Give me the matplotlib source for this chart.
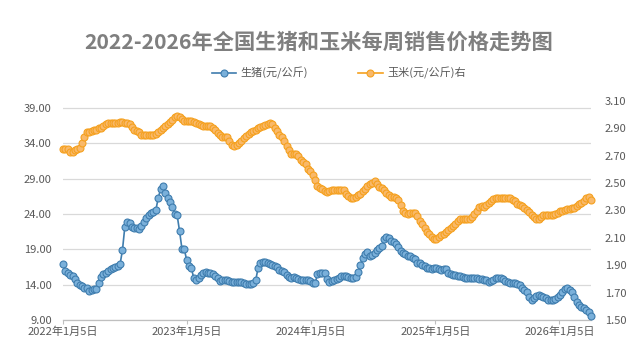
import matplotlib
matplotlib.use("Agg")
import matplotlib.pyplot as plt
import numpy as np

plt.rcParams['font.family'] = ['Noto Sans CJK SC', 'DejaVu Sans']

title = "2022-2026年全国生猪和玉米每周销售价格走势图"
pig_label = "生猪(元/公斤)"
corn_label = "玉米(元/公斤)右"
start_date = "2022-01-05"

pig = [
    16.9, 15.9, 15.6, 15.4, 15.2, 14.8, 14.2, 13.9, 13.8, 13.6, 13.5, 13.1, 13.2, 13.4, 13.4, 14.2,
    15.1, 15.5, 15.7, 15.9, 16.2, 16.4, 16.5, 16.7, 16.9, 18.9, 22.2, 22.9, 22.8, 22.1, 22.0, 22.0,
    21.9, 22.3, 22.9, 23.4, 23.8, 24.1, 24.3, 24.5, 26.2, 27.5, 27.9, 27.0, 26.3, 25.7, 25.0, 24.0,
    23.8, 21.6, 19.1, 19.0,
    17.5, 16.7, 16.3, 14.9, 14.6, 14.9, 15.3, 15.7, 15.8, 15.7, 15.6, 15.5, 15.2, 15.0, 14.5, 14.6,
    14.7, 14.6, 14.5, 14.4, 14.4, 14.4, 14.4, 14.4, 14.3, 14.1, 14.1, 14.1, 14.2, 14.6, 16.3, 17.1,
    17.2, 17.2, 17.1, 16.9, 16.8, 16.6, 16.5, 16.1, 15.9, 15.8, 15.4, 15.1, 15.0, 15.1, 15.0, 14.8,
    14.6, 14.6, 14.7, 14.6,
    14.5, 14.3, 14.2, 15.5, 15.6, 15.6, 15.6, 14.8, 14.4, 14.5, 14.6, 14.8, 15.0, 15.2, 15.2, 15.2,
    15.1, 15.0, 15.0, 15.1, 15.8, 16.8, 17.8, 18.4, 18.6, 18.1, 18.2, 18.5, 18.9, 19.2, 19.5, 20.4,
    20.8, 20.6, 20.2, 20.0, 19.7, 19.4, 18.7, 18.5, 18.3, 18.1, 18.0, 17.8, 17.6, 17.1, 17.0, 16.8,
    16.6, 16.4, 16.3, 16.2,
    16.4, 16.3, 16.2, 16.1, 16.2, 16.2, 15.6, 15.5, 15.4, 15.3, 15.2, 15.2, 15.1, 15.0, 15.0, 15.0,
    14.9, 14.9, 14.9, 14.8, 14.8, 14.7, 14.6, 14.4, 14.5, 14.7, 14.9, 15.0, 14.9, 14.8, 14.5, 14.4,
    14.3, 14.2, 14.2, 14.1, 14.0, 13.6, 13.2, 12.9, 12.3, 11.9, 12.1, 12.4, 12.5, 12.4, 12.3, 12.1,
    11.9, 11.8, 11.9, 12.0,
    12.3, 12.6, 13.0, 13.4, 13.5, 13.3, 12.9, 12.2, 11.6, 11.1, 10.9, 10.7, 10.4, 10.1, 9.5,
]

corn = [
    2.75, 2.75, 2.75, 2.73, 2.73, 2.745, 2.75, 2.76, 2.79, 2.84, 2.87, 2.875, 2.88, 2.89, 2.89, 2.90,
    2.90, 2.917, 2.93, 2.936, 2.936, 2.936, 2.936, 2.94, 2.95, 2.95, 2.936, 2.936, 2.93, 2.91, 2.89, 2.88,
    2.87, 2.855, 2.85, 2.85, 2.85, 2.85, 2.85, 2.86, 2.875, 2.89, 2.905, 2.915, 2.935, 2.945, 2.96, 2.985,
    2.99, 2.98, 2.97, 2.955,
    2.955, 2.955, 2.955, 2.95, 2.94, 2.935, 2.925, 2.92, 2.917, 2.917, 2.917, 2.905, 2.89, 2.865, 2.85, 2.84,
    2.838, 2.835, 2.81, 2.777, 2.77, 2.78, 2.795, 2.81, 2.83, 2.845, 2.86, 2.873, 2.88, 2.89, 2.90, 2.91,
    2.917, 2.925, 2.935, 2.936, 2.93, 2.90, 2.88, 2.85, 2.835, 2.805, 2.77, 2.745, 2.716, 2.716, 2.71, 2.70,
    2.67, 2.655, 2.64, 2.606,
    2.585, 2.56, 2.52, 2.48, 2.465, 2.455, 2.445, 2.435, 2.445, 2.45, 2.45, 2.45, 2.45, 2.45, 2.45, 2.42,
    2.405, 2.39, 2.39, 2.40, 2.41, 2.42, 2.44, 2.455, 2.48, 2.49, 2.50, 2.515, 2.49, 2.475, 2.465, 2.447,
    2.43, 2.41, 2.40, 2.40, 2.39, 2.375, 2.34, 2.30, 2.285, 2.275, 2.28, 2.285, 2.28, 2.26, 2.225, 2.20,
    2.175, 2.145, 2.125, 2.11,
    2.095, 2.095, 2.105, 2.12, 2.13, 2.14, 2.155, 2.17, 2.19, 2.205, 2.22, 2.235, 2.235, 2.235, 2.235, 2.24,
    2.255, 2.275, 2.30, 2.325, 2.335, 2.325, 2.34, 2.355, 2.37, 2.385, 2.39, 2.39, 2.39, 2.39, 2.39, 2.39,
    2.39, 2.38, 2.37, 2.35, 2.34, 2.33, 2.32, 2.305, 2.29, 2.27, 2.25, 2.24, 2.235, 2.25, 2.265, 2.27,
    2.27, 2.27, 2.27, 2.275,
    2.285, 2.295, 2.30, 2.305, 2.31, 2.31, 2.315, 2.32, 2.335, 2.345, 2.355, 2.37, 2.39, 2.395, 2.375,
]

x_tick_dates = ["2022-01-05", "2023-01-05", "2024-01-05", "2025-01-05", "2026-01-05"]
x_tick_labels = ["2022年1月5日", "2023年1月5日", "2024年1月5日", "2025年1月5日", "2026年1月5日"]
left_ticks = [9, 14, 19, 24, 29, 34, 39]
right_ticks = [1.5, 1.7, 1.9, 2.1, 2.3, 2.5, 2.7, 2.9, 3.1]

d0 = np.datetime64(start_date)
n = max(len(pig), len(corn))
dates = d0 + np.arange(n) * np.timedelta64(7, 'D')
pig_dates = dates[:len(pig)]
corn_dates = dates[:len(corn)]

W, H = 638, 354
fig = plt.figure(figsize=(W / 100, H / 100), dpi=100)
ax = fig.add_axes([63 / W, (H - 320) / H, (591 - 63) / W, (320 - 101) / H])
ax2 = ax.twinx()

text_color = "#595959"
grid_color = "#D9D9D9"

pig_line = "#3F7DAE"
pig_face = "#7AB0DA"
corn_line = "#F5A11F"
corn_face = "#F9B96A"

ax.plot(pig_dates, pig, color=pig_line, lw=1.2, marker='o', ms=5.0,
        mfc=pig_face, mec=pig_line, mew=0.8, clip_on=False, zorder=3, label=pig_label)
ax2.plot(corn_dates, corn, color=corn_line, lw=1.2, marker='o', ms=5.0,
         mfc=corn_face, mec=corn_line, mew=0.8, clip_on=False, zorder=3, label=corn_label)

ax.set_xlim(dates[0], dates[-1])
ax.set_ylim(9, 40)
ax2.set_ylim(1.5, 3.1)

ax.set_yticks(left_ticks)
ax.set_yticklabels([f"{v:.2f}" for v in left_ticks])
ax2.set_yticks(right_ticks)
ax2.set_yticklabels([f"{v:.2f}" for v in right_ticks])

ax.set_xticks([np.datetime64(d) for d in x_tick_dates])
ax.set_xticklabels(x_tick_labels)

ax.grid(axis='y', color=grid_color, lw=0.9)
ax.set_axisbelow(True)
for a in (ax, ax2):
    for s in ('top', 'left', 'right', 'bottom'):
        a.spines[s].set_visible(False)
ax.spines['bottom'].set_visible(True)
ax.spines['bottom'].set_color("#BFBFBF")
ax.spines['bottom'].set_linewidth(0.9)

ax.tick_params(axis='y', length=0, labelsize=8, labelcolor=text_color, pad=8)
ax2.tick_params(axis='y', length=0, labelsize=8, labelcolor=text_color, pad=10)
ax.tick_params(axis='x', length=3, color="#BFBFBF", labelsize=8, labelcolor=text_color, pad=2)

fig.text(0.5, (H - 42) / H, title, ha='center', va='center', fontsize=15.3,
         fontweight='bold', color="#7F7F7F")

h1, l1 = ax.get_legend_handles_labels()
h2, l2 = ax2.get_legend_handles_labels()
fig.legend(h1 + h2, l1 + l2, loc='center', bbox_to_anchor=(0.531, (H - 73) / H),
           ncol=2, frameon=False, fontsize=8, labelcolor=text_color,
           handlelength=2.2, columnspacing=4.5, handletextpad=0.4)

fig.savefig("out.png", dpi=100)
